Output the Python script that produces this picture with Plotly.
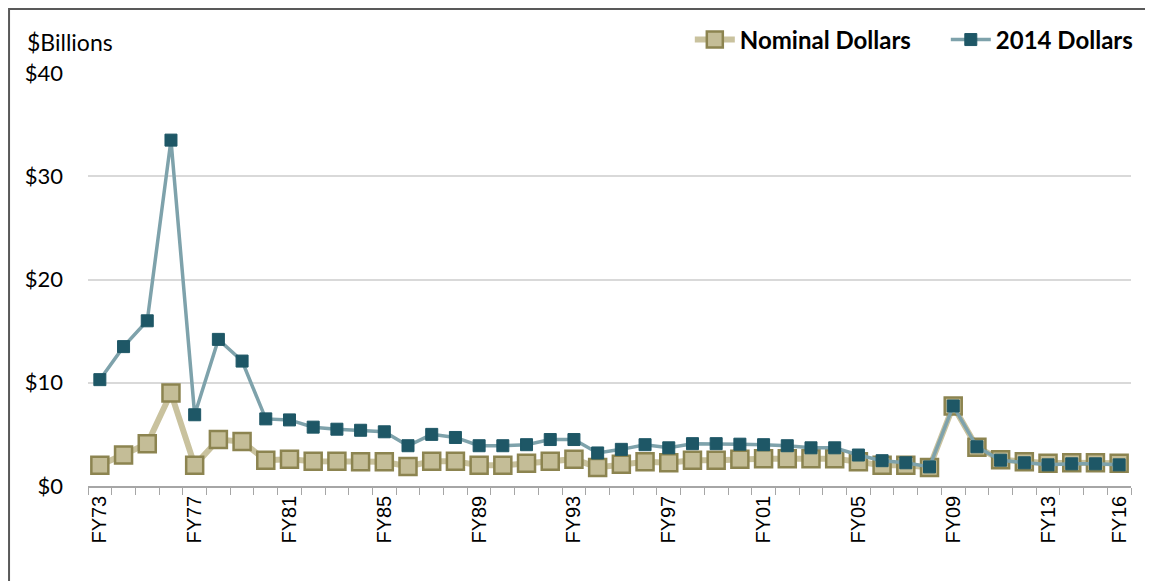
import plotly.graph_objects as go

years = [f"FY{y % 100:02d}" for y in range(1973, 2017)]
label_years = ["FY73", "FY77", "FY81", "FY85", "FY89", "FY93", "FY97",
               "FY01", "FY05", "FY09", "FY13", "FY16"]

nominal = [2.0, 3.0, 4.1, 9.0, 2.0, 4.5, 4.3, 2.5, 2.6, 2.4,
           2.4, 2.35, 2.35, 1.9, 2.4, 2.4, 2.0, 2.0, 2.2, 2.4,
           2.6, 1.8, 2.1, 2.35, 2.25, 2.5, 2.5, 2.6, 2.65, 2.65,
           2.65, 2.65, 2.35, 2.0, 2.0, 1.8, 7.75, 3.75, 2.55, 2.35,
           2.2, 2.25, 2.25, 2.2]
real2014 = [10.3, 13.5, 16.0, 33.5, 6.9, 14.2, 12.1, 6.5, 6.4, 5.7,
            5.5, 5.4, 5.25, 3.9, 5.0, 4.7, 3.9, 3.9, 4.0, 4.5,
            4.5, 3.2, 3.55, 4.0, 3.7, 4.1, 4.1, 4.05, 4.0, 3.9,
            3.7, 3.7, 3.0, 2.45, 2.25, 1.85, 7.75, 3.8, 2.5, 2.25,
            2.05, 2.15, 2.15, 2.05]

fig = go.Figure()
fig.add_trace(go.Scatter(
    x=years, y=nominal, name="Nominal Dollars", mode="lines+markers",
    line=dict(color="#c9c29e", width=6),
    marker=dict(symbol="square", size=17, color="#c4bd97",
                line=dict(color="#8c8450", width=2.5)),
))
fig.add_trace(go.Scatter(
    x=years, y=real2014, name="2014 Dollars", mode="lines+markers",
    line=dict(color="#7ea2ab", width=3.5),
    marker=dict(symbol="square", size=12, color="#1e5766",
                line=dict(color="#1e5766", width=1)),
))

ticktext = [y if y in label_years else "" for y in years]

fig.update_layout(
    width=1145, height=573,
    margin=dict(l=80, r=22, t=65, b=95, autoexpand=False),
    paper_bgcolor="white", plot_bgcolor="white",
    showlegend=True,
    legend=dict(orientation="h", x=0.577, xanchor="left", y=1.08, yanchor="middle",
                font=dict(family="Lato, Open Sans, sans-serif", size=24, color="#000000",
                          weight="bold"),
                bgcolor="rgba(0,0,0,0)", itemwidth=40, tracegroupgap=0,
                entrywidth=201, entrywidthmode="pixels"),
    xaxis=dict(
        type="category", categoryorder="array", categoryarray=years,
        tickmode="array", tickvals=years, ticktext=ticktext,
        tickangle=-90, tickson="boundaries", ticks="outside", ticklen=7,
        tickcolor="#a6a6a6", showline=True, linecolor="#a6a6a6", linewidth=1.5,
        showgrid=False, range=[-0.5, len(years) - 0.5], automargin=False,
        tickfont=dict(family="Liberation Sans, Arial, sans-serif", size=20, color="#000000"),
    ),
    yaxis=dict(
        range=[0, 40], dtick=10, tickprefix="$", showgrid=True,
        gridcolor="#d9d9d9", gridwidth=1.5, zeroline=False, showline=False,
        ticks="", ticklabelstandoff=24, automargin=False,
        tickfont=dict(family="Lato, Open Sans, sans-serif", size=22, color="#000000"),
    ),
    annotations=[dict(
        text="$Billions", xref="paper", yref="paper", x=-0.0604, y=1.075,
        xanchor="left", yanchor="middle", showarrow=False,
        font=dict(family="Lato, Open Sans, sans-serif", size=23, color="#000000"),
    )],
    shapes=[dict(
        type="rect", xref="paper", yref="paper",
        x0=-0.0757, x1=1.04, y0=-0.3, y1=1.155,
        line=dict(color="#595959", width=2), fillcolor="rgba(0,0,0,0)", layer="below",
    )],
)

fig.write_html("out.html")
